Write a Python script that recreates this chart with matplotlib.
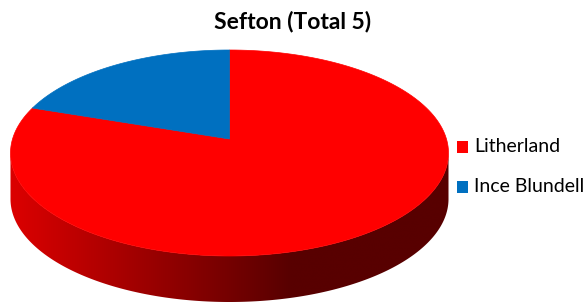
import numpy as np
import matplotlib
matplotlib.use("Agg")
import matplotlib.pyplot as plt
from matplotlib.patches import Polygon, Rectangle

title = "Sefton (Total 5)"
labels = ["Litherland", "Ince Blundell"]
values = [4, 1]
colors = ["#FF0000", "#0070C0"]

# ellipse geometry (pixel coords, y down)
cx, cy = 229.5, 153.0
a, b = 219.0, 103.0
depth = 46.0
apex = (229.5, 139.0)
persp = 0.67  # squeeze of angles toward the vertical, like the 3D view


def pt(theta, dy=0.0):
    t = np.radians(theta)
    return cx + a * np.cos(t), cy - b * np.sin(t) + dy


def view_angle(theta):
    t = np.radians(theta)
    v = np.degrees(np.arctan2(np.sin(t), persp * np.cos(t)))
    delta = ((v - theta + 180) % 360) - 180
    return theta + delta


fig = plt.figure(figsize=(5.86, 3.06), dpi=100)
ax = fig.add_axes([0, 0, 1, 1])
ax.set_xlim(0, 586)
ax.set_ylim(306, 0)
ax.axis("off")

# side wall (front half) with horizontal gradient
angs = np.linspace(180, 360, 300)
top = [pt(t) for t in angs]
bot = [pt(t, depth) for t in angs[::-1]]
side = Polygon(top + bot, closed=True, facecolor="none", edgecolor="none")
ax.add_patch(side)
xs = np.linspace(0, 586, 600)
f = np.clip((xs - 15) / (290 - 15), 0, 1)
grad = np.zeros((2, xs.size, 3))
grad[:, :, 0] = (218 - 130 * f) / 255
im = ax.imshow(grad, extent=(0, 586, 306, 0), aspect="auto",
               interpolation="bilinear", zorder=1)
im.set_clip_path(side)

# top face slices, clockwise from 12 o'clock for first value
total = sum(values)
start = 90.0
for v, c in zip(values, colors):
    end = start - 360.0 * v / total
    ts = np.linspace(view_angle(start), view_angle(end), 200)
    verts = [apex] + [pt(t) for t in ts]
    ax.add_patch(Polygon(verts, closed=True, facecolor=c, edgecolor=c,
                         lw=0.5, zorder=2))
    start = end

ax.text(293, 21, title, ha="center", va="center", fontsize=16.5,
        fontweight="bold", family="Lato")

# legend
for i, (lab, c) in enumerate(zip(labels, colors)):
    y = 147 + 40 * i
    ax.add_patch(Rectangle((457, y - 6), 11, 12, facecolor=c, edgecolor="none"))
    ax.text(474, y, lab, ha="left", va="center", fontsize=14, family="Lato")

fig.savefig("out.png", dpi=100)
